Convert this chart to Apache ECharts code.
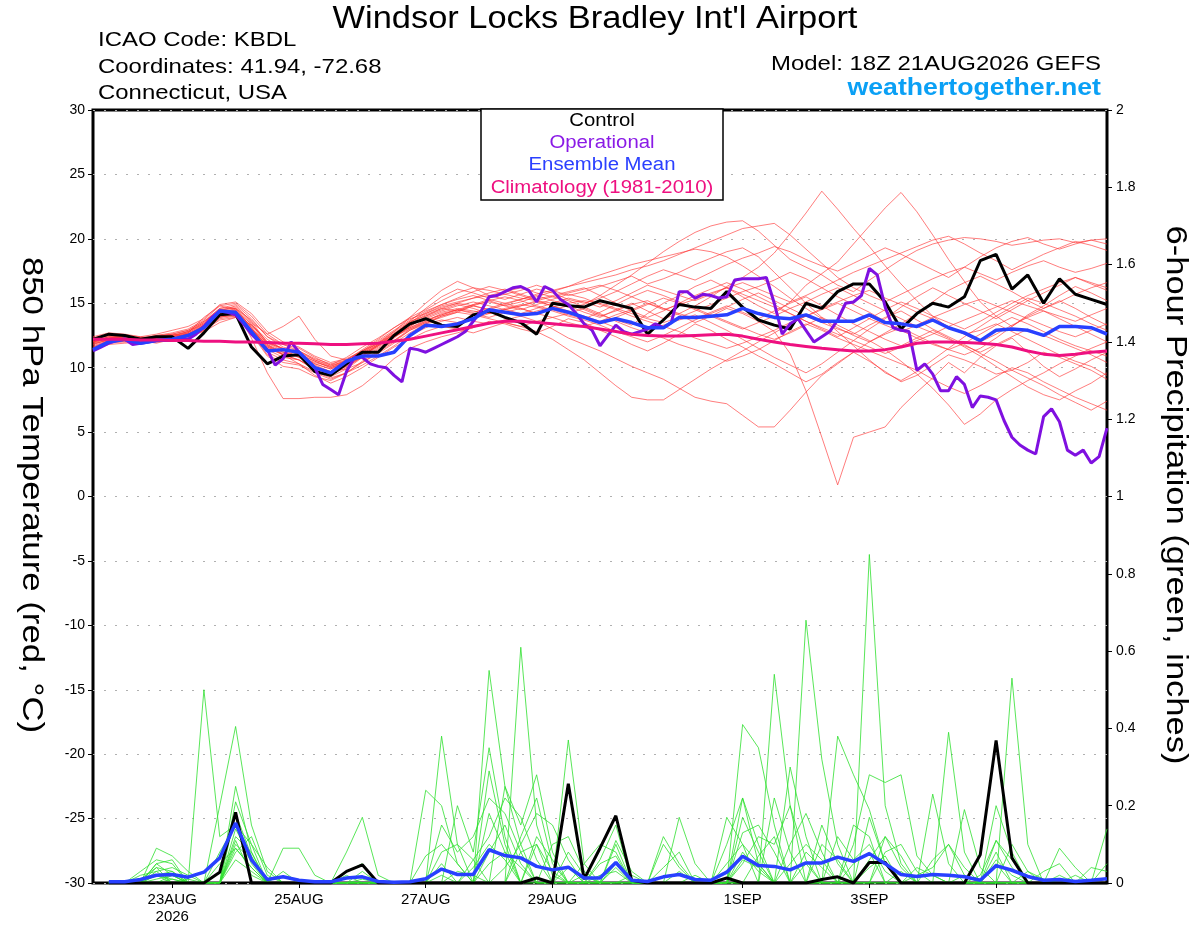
<!DOCTYPE html>
<html>
<head>
<meta charset="utf-8">
<title>KBDL GEFS 850 hPa Temperature / 6-hour Precipitation</title>
<script src="https://cdn.jsdelivr.net/npm/echarts@6/dist/echarts.min.js"></script>
<style>
html,body{margin:0;padding:0;background:#fff;}
#chart{width:1200px;height:927px;}
</style>
</head>
<body>
<div id="chart"></div>
<script>
// x axis: hours after 18Z 21AUG2026, 6-hourly (operational run 3-hourly)
var tickHours = [30, 78, 126, 174, 246, 294, 342];
var tickLabels = ['23AUG\n2026', '25AUG', '27AUG', '29AUG', '1SEP', '3SEP', '5SEP'];

// 850 hPa temperature, degC, 65 steps of 6h
var tempControl = [12.2,12.6,12.5,12.2,12.4,12.4,11.5,12.7,14.1,14.2,11.6,
  10.3,10.9,11.0,9.7,9.4,10.3,11.2,11.2,12.5,13.4,
  13.8,13.3,13.2,14.1,14.4,13.9,13.5,12.6,15.0,14.8,
  14.7,15.2,14.9,14.6,12.6,13.7,14.9,14.7,14.6,15.9,
  14.7,13.7,13.3,13.0,15.0,14.6,15.9,16.5,16.5,15.1,
  13.0,14.2,15.0,14.7,15.5,18.3,18.8,16.1,17.2,15.0,
  16.9,15.7,15.3,14.9];
var tempMean = [11.4,12.0,12.2,11.9,12.1,12.2,12.5,13.1,14.4,14.3,12.8,
  11.3,11.4,11.2,10.0,9.6,10.5,10.9,10.9,11.2,12.5,
  13.3,13.2,13.4,13.8,14.5,14.3,14.1,14.2,14.6,14.3,
  13.9,13.5,13.8,13.5,13.1,13.1,13.9,13.9,14.0,14.1,
  14.6,14.2,13.9,13.8,14.1,13.6,13.6,13.6,14.1,13.5,
  13.4,13.2,13.7,13.1,12.7,12.1,12.9,13.0,12.9,12.5,
  13.2,13.2,13.1,12.6];
var tempClim = [12.2,12.2,12.2,12.15,12.15,12.1,12.1,12.05,12.05,12.0,12.0,
  11.95,11.9,11.9,11.85,11.8,11.8,11.85,11.9,12.05,12.2,
  12.45,12.7,12.95,13.2,13.45,13.6,13.6,13.5,13.4,13.3,
  13.2,13.0,12.8,12.6,12.5,12.45,12.45,12.5,12.55,12.6,
  12.45,12.2,12.0,11.8,11.65,11.5,11.4,11.3,11.3,11.4,
  11.6,11.9,12.0,12.0,11.95,11.9,11.8,11.6,11.3,11.05,
  10.95,11.05,11.2,11.3];
// operational, 129 steps of 3h
var tempOper = [11.3,11.6,11.9,12.1,12.2,11.8,11.9,12.0,12.1,12.1,
  12.1,12.2,12.2,12.6,13.2,13.9,14.4,14.3,14.1,13.4,
  12.6,12.0,11.4,10.2,10.7,12.0,11.2,10.6,10.0,8.7,
  8.3,7.9,9.7,10.8,10.8,10.3,10.1,10.0,9.4,8.9,
  11.5,11.4,11.2,11.5,11.8,12.1,12.4,12.8,13.6,14.4,
  15.5,15.6,15.9,16.2,16.3,16.0,15.1,16.3,16.0,15.3,
  14.9,14.2,13.4,12.9,11.7,12.5,13.3,12.8,12.6,12.8,
  13.0,13.4,13.1,13.5,15.9,15.9,15.4,15.7,15.6,15.4,
  15.5,16.8,16.9,16.9,16.9,17.0,15.0,12.6,13.4,13.8,
  12.9,12.0,12.4,12.8,13.7,15.0,15.1,15.6,17.7,17.2,
  14.7,13.1,12.9,12.8,9.8,10.3,9.5,8.2,8.2,9.3,
  8.7,6.9,7.8,7.7,7.5,5.9,4.6,4.0,3.6,3.3,
  6.2,6.8,5.8,3.6,3.2,3.6,2.6,3.1,5.3];

// ensemble members, temperature
var tm01 = [11.5,12.0,12.3,12.2,12.4,12.6,12.9,13.6,14.6,14.9,13.8,12.4,11.6,11.3,10.6,10.2,10.8,11.6,12.3,13.1,13.9,14.5,15.2,15.8,16.2,16.0,15.7,15.4,15.2,15.0,14.7,14.9,15.6,16.4,17.2,18.1,19.0,19.8,20.5,21.0,21.3,21.4,20.6,19.5,18.4,17.8,17.2,16.4,15.9,16.8,17.6,18.4,19.1,19.6,19.9,20.1,20.0,19.8,19.5,19.7,19.9,20.0,19.7,19.9,19.6];
var tm02 = [12.0,12.4,12.2,12.0,12.3,12.5,12.8,13.4,14.4,14.8,13.6,11.9,11.3,11.1,10.0,9.6,10.2,10.9,11.8,12.6,13.4,14.1,14.6,14.4,14.9,15.3,15.0,14.6,14.2,14.5,14.8,14.3,13.9,14.5,15.0,14.4,13.8,14.2,14.8,15.5,16.3,17.0,17.8,18.9,20.4,22.0,23.7,22.3,20.8,19.4,17.9,16.5,15.2,14.0,13.1,12.6,12.9,13.4,12.8,12.2,11.6,11.0,10.5,10.1,9.4];
var tm03 = [11.3,11.9,12.0,12.1,11.9,12.2,12.6,13.2,14.1,14.5,13.1,11.4,10.8,10.6,9.8,9.3,9.9,10.8,11.4,12.1,12.9,13.5,13.9,14.3,14.8,14.5,14.3,14.0,13.6,13.9,14.2,14.6,14.1,13.7,13.3,14.2,15.0,15.6,16.3,16.8,16.2,15.5,14.8,14.2,15.1,16.4,17.3,18.2,19.6,21.0,22.4,23.6,22.1,20.3,18.4,16.7,15.1,14.0,13.2,14.1,14.8,15.6,16.3,15.8,15.2];
var tm04 = [12.2,12.5,12.4,12.3,12.5,12.6,12.4,12.8,13.5,13.9,13.0,11.9,11.5,11.0,10.3,9.9,10.5,11.2,11.9,12.6,13.1,13.6,14.2,14.5,14.3,14.6,15.0,15.3,15.6,15.2,14.9,14.5,14.0,14.4,14.9,15.2,14.6,14.1,13.5,14.0,14.6,14.2,13.6,12.8,11.1,8.2,4.6,0.9,4.6,5.0,5.4,6.9,8.1,9.2,10.4,9.6,10.8,11.7,12.3,11.2,10.1,9.3,9.9,10.6,11.2];
var tm05 = [11.6,12.0,12.1,11.9,12.0,12.2,12.7,13.9,14.8,14.5,12.3,9.6,7.6,7.6,7.7,7.7,7.9,8.6,9.6,10.7,11.5,12.0,12.4,12.7,13.1,13.6,13.4,13.0,12.7,13.2,13.8,13.5,12.9,12.4,11.8,11.3,11.9,12.6,13.4,12.9,12.2,11.6,10.9,10.3,9.6,8.9,9.5,10.4,11.2,10.5,9.7,8.9,9.4,10.2,11.0,10.6,10.1,9.5,9.8,10.4,11.2,10.8,10.3,9.8,9.1];
var tm06 = [12.0,12.2,12.0,12.1,12.3,12.1,12.3,12.9,13.8,14.0,13.3,12.2,11.4,10.8,10.2,9.7,9.9,10.4,11.1,11.9,12.7,13.4,14.0,14.3,14.1,13.8,13.5,13.2,13.6,13.0,12.3,11.8,11.3,10.7,10.1,9.6,9.1,8.4,7.7,7.4,7.2,6.3,5.4,5.4,6.7,8.1,9.4,10.3,11.2,12.0,12.6,13.1,12.5,11.9,11.4,11.0,11.5,12.3,13.2,14.0,14.6,15.2,14.6,13.9,13.3];
var tm07 = [12.4,12.7,12.6,12.4,12.6,12.9,13.2,13.8,14.9,15.1,14.2,12.8,12.0,11.6,10.9,10.4,10.7,11.3,12.0,12.8,13.9,15.0,16.0,16.7,16.2,15.6,15.3,15.7,16.1,15.8,15.3,15.0,15.4,15.9,16.5,17.1,17.6,17.2,16.8,17.4,18.0,18.5,18.9,19.4,19.0,18.4,17.9,17.5,18.1,18.7,19.3,18.8,18.2,17.6,17.0,17.8,18.6,19.3,19.8,20.1,19.6,19.2,19.6,19.9,20.0];
var tm08 = [11.9,12.3,12.3,12.2,12.1,12.4,12.6,13.1,14.2,14.6,13.4,11.8,11.0,10.3,9.4,8.8,9.3,10.0,10.8,11.6,12.2,12.8,13.2,13.0,12.7,13.1,13.5,13.2,12.8,12.2,11.4,10.6,9.6,8.6,7.7,7.5,7.5,8.3,9.1,9.9,10.6,11.3,12.0,12.7,13.4,14.0,14.6,15.1,15.6,16.0,15.4,14.9,14.3,13.8,13.2,12.6,12.0,12.6,13.3,13.9,14.4,13.8,13.2,12.6,12.0];
var tm09 = [11.7,12.1,12.2,12.3,12.2,12.3,12.5,13.3,14.3,14.3,12.9,11.5,11.0,10.9,10.4,10.1,10.6,11.4,12.2,13.1,13.8,14.2,14.7,15.0,15.4,15.6,15.9,16.2,15.8,15.5,15.2,14.7,14.2,13.6,13.1,12.7,12.3,11.8,11.4,11.0,10.5,10.9,11.4,12.1,12.8,13.4,12.9,12.3,11.8,11.3,10.8,10.3,9.8,9.1,8.5,8.0,8.6,9.3,10.0,9.6,8.9,8.3,7.7,7.2,6.7];
var tm10 = [12.1,12.3,12.5,12.4,12.3,12.5,12.8,13.5,14.6,14.7,13.5,12.6,13.2,14.0,12.2,10.9,10.6,11.3,11.9,12.7,13.5,14.3,14.9,15.3,15.6,15.2,14.8,15.1,15.5,15.9,16.3,16.8,17.2,17.6,18.0,18.3,18.6,18.9,19.2,19.0,18.6,17.9,17.1,16.3,15.4,14.6,13.8,13.1,12.5,12.0,12.7,13.4,14.2,15.1,16.0,16.6,17.1,16.5,15.9,15.2,14.6,15.1,15.7,16.2,16.6];
var tm11 = [11.4,11.8,11.9,12.0,12.0,12.1,12.4,12.9,13.7,13.9,12.8,11.2,10.6,10.3,9.7,9.2,9.6,10.2,10.9,11.7,12.5,13.1,13.6,13.9,13.6,13.4,13.7,14.0,14.4,14.7,15.0,15.2,15.0,14.6,14.2,13.8,13.5,13.9,14.4,14.9,15.4,15.9,16.3,16.8,17.4,16.9,16.2,15.5,14.9,14.3,13.6,12.9,12.3,11.8,11.4,11.9,12.6,13.3,13.9,13.4,12.8,12.2,11.7,11.3,10.9];
var tm12 = [12.3,12.6,12.4,12.2,12.4,12.6,12.9,13.6,14.4,14.2,12.9,11.6,11.1,11.0,10.5,10.0,10.5,11.1,11.8,12.4,13.0,13.5,14.0,14.4,14.8,15.2,15.5,15.2,14.8,14.5,14.1,13.8,14.3,14.9,15.5,16.0,15.6,15.1,14.6,14.1,13.6,13.1,12.6,12.2,12.7,13.3,13.9,13.3,12.7,12.1,11.4,10.5,9.5,8.4,7.1,5.6,6.4,7.5,8.3,9.0,9.6,10.3,10.9,11.5,12.0];
var tm13 = [11.8,12.2,12.3,12.2,12.3,12.4,12.6,13.2,14.1,14.3,13.0,11.7,11.2,10.8,10.1,9.7,10.1,10.8,11.5,12.3,13.2,14.0,14.6,15.0,14.8,14.5,14.9,15.3,15.7,16.0,16.3,16.6,16.9,17.2,17.6,17.9,18.3,18.8,19.3,19.8,20.3,20.8,21.0,21.2,20.3,19.2,18.1,17.0,16.2,15.6,15.1,15.7,16.3,16.9,17.4,17.8,17.3,16.8,17.4,17.9,18.3,17.8,17.4,17.7,18.1];
var tm14 = [12.0,12.4,12.3,12.1,12.2,12.4,12.7,13.4,14.3,14.4,13.2,11.8,11.2,10.9,10.3,9.9,10.3,11.0,11.7,12.5,13.3,13.8,14.3,14.6,14.4,14.2,14.6,14.9,14.7,14.4,14.0,13.7,13.3,12.8,12.4,12.0,12.5,13.1,13.7,14.2,14.7,15.3,15.8,15.2,14.6,14.0,13.5,13.0,12.6,13.3,13.9,14.4,13.7,13.0,12.4,11.8,11.1,10.5,9.8,9.2,8.6,7.9,7.3,6.7,7.4];
var tm15 = [11.5,12.0,12.1,12.0,12.2,12.3,12.4,12.9,13.9,14.1,12.7,11.0,10.4,10.2,9.6,9.1,9.6,10.4,11.2,12.0,12.9,13.4,13.7,13.5,13.8,14.2,14.5,14.8,15.1,14.8,14.4,14.0,13.6,13.1,12.6,12.9,13.3,13.7,14.1,13.5,12.9,12.2,11.5,10.8,10.2,9.6,10.3,11.2,12.1,13.0,13.8,14.7,15.5,16.2,15.6,15.0,14.4,13.8,14.5,15.2,15.8,16.4,17.0,16.5,16.0];
var tm16 = [12.2,12.5,12.4,12.3,12.4,12.5,12.7,13.3,14.2,14.4,13.4,12.0,11.4,11.1,10.5,10.0,10.4,11.0,11.7,12.4,13.2,13.9,14.4,14.8,15.1,14.8,14.5,14.2,14.6,15.0,15.4,15.1,14.7,15.2,15.8,16.4,16.0,15.6,15.2,15.7,16.2,16.6,16.1,15.6,15.1,15.6,16.2,16.8,17.4,17.9,18.4,18.9,19.4,19.9,20.2,19.6,18.9,18.3,17.6,18.2,18.8,19.3,19.8,19.5,19.1];
var tm17 = [11.9,12.1,12.2,12.2,12.3,12.2,12.5,13.0,14.0,14.0,12.6,10.9,10.1,9.9,9.3,9.0,9.6,10.5,11.3,12.1,13.0,13.6,14.1,14.5,14.2,13.9,14.3,14.6,14.2,13.9,13.5,13.2,13.6,14.1,14.5,15.0,14.6,14.2,13.8,14.3,14.8,14.3,13.8,14.4,15.0,15.5,14.8,14.1,13.4,12.8,12.2,11.7,12.3,12.9,12.3,11.6,10.9,10.1,9.3,8.5,7.9,7.5,8.2,8.8,9.6];
var tm18 = [12.1,12.4,12.3,12.2,12.5,12.7,13.0,13.7,14.8,15.0,14.0,12.6,11.8,11.5,10.8,10.2,10.5,11.1,11.8,12.6,13.6,14.6,15.5,16.1,15.8,15.4,15.7,16.0,16.4,16.0,15.6,15.9,16.3,16.7,17.1,16.5,16.9,17.4,18.0,18.5,19.0,19.3,18.6,17.4,16.2,15.0,13.9,12.8,11.7,10.6,9.6,9.0,9.7,10.6,11.5,12.4,13.2,14.0,14.7,15.4,15.0,14.5,14.0,13.4,12.9];
var tm19 = [11.8,12.2,12.1,12.0,12.2,12.3,12.6,13.3,14.5,14.6,13.1,11.6,11.0,10.6,9.9,9.5,10.0,10.9,11.7,12.6,13.5,14.2,14.8,15.1,15.4,15.8,16.1,15.7,15.3,15.6,15.9,16.2,15.6,15.0,14.4,13.9,14.4,15.0,15.6,16.1,16.6,16.1,15.5,14.9,14.2,13.6,13.0,12.4,13.1,13.8,14.5,15.1,14.6,14.0,13.5,13.0,13.6,14.3,15.0,15.6,16.1,16.6,17.0,16.6,16.2];
var tm20 = [12.3,12.5,12.3,12.1,12.2,12.4,12.8,13.5,14.5,14.6,13.7,12.4,11.8,11.3,10.7,10.3,10.6,11.3,12.1,12.9,13.7,14.4,14.9,15.4,15.9,16.3,16.0,15.6,15.2,14.8,14.3,13.9,13.4,13.9,14.4,14.9,15.4,15.0,14.5,14.0,13.5,13.0,13.5,14.0,14.6,15.1,15.7,16.2,15.6,15.0,14.4,13.8,13.2,12.7,12.2,11.7,11.2,11.8,12.4,13.0,12.5,12.0,11.5,11.0,10.4];
var tm21 = [11.6,12.1,12.2,12.2,12.1,12.3,12.6,13.0,13.9,14.2,13.0,11.7,11.0,10.6,10.0,9.6,10.1,10.9,11.6,12.4,13.1,13.7,14.1,14.5,14.9,15.1,14.8,14.5,14.9,15.3,15.7,15.4,14.9,14.5,14.0,13.6,13.2,12.8,12.3,11.9,11.5,11.9,12.4,12.9,13.5,14.0,14.5,15.0,14.4,13.8,13.3,12.8,13.3,13.9,14.4,14.9,15.3,14.8,14.3,13.8,13.3,12.8,12.4,12.9,13.4];
var tm22 = [12.0,12.3,12.4,12.3,12.3,12.2,12.5,13.2,14.0,14.2,13.3,12.0,11.5,11.2,10.6,10.1,10.5,11.2,11.9,12.8,13.6,14.0,14.5,14.9,14.6,14.2,14.5,14.8,15.2,15.5,15.8,16.1,16.4,16.0,15.5,15.0,14.5,14.9,15.3,15.8,16.2,15.7,15.2,14.7,14.2,13.6,13.1,12.6,12.1,11.6,11.1,11.6,12.1,12.6,13.2,13.7,14.2,14.7,15.2,14.8,14.4,14.0,13.6,14.1,14.6];
var tempMembers = [tm01, tm02, tm03, tm04, tm05, tm06, tm07, tm08, tm09, tm10, tm11,
  tm12, tm13, tm14, tm15, tm16, tm17, tm18, tm19, tm20, tm21, tm22];

// 6-hour precipitation, inches, 64 steps (first value ends 00Z 22AUG)
var precControl = [0,0,0,0,0,0,0,.028, .183,0,0,0,0,0,0,.03, .047,0,0,0,0,0,0,0, 0,0,0,.013,0,.257,.01,.09, .174,.007,0,0,0,0,0,.013, 0,0,0,0,0,.009,.016,0, .053,.053,0,0,0,0,0,.073, .369,.065,0,0,0,0,0,0];
var precMean = [.003,.003,.009,.02,.022,.015,.028,.065, .155,.06,.009,.016,.007,.003,.003,.013, .016,.004,.002,.003,.011,.036,.022,.022, .086,.071,.065,.043,.034,.041,.013,.013, .053,.007,.004,.016,.022,.009,.007,.028, .069,.045,.043,.034,.052,.052,.067,.056, .076,.05,.022,.017,.022,.02,.016,.007, .045,.033,.017,.007,.009,.004,.007,.011];

var pm01 = [0,0,0,.09,.07,.03,0,0, .25,.08,0,0,0,0,0,0, 0,0,0,0,0,.38,.1,0, 0,0,.61,.15,.02,0,0,0, 0,0,0,0,0,0,0,0, .22,.1,0,0,0,0,0,0, .17,.05,0,0,0,0,0,0, .11,.04,0,0,0,0,0,0];
var pm02 = [0,0,.03,.06,.05,0,.5,.12, .15,.05,0,0,0,0,0,0, 0,0,0,0,0,0,0,0, .55,.25,.1,0,0,.04,0,0, 0,0,0,0,0,0,0,0, 0,0,.54,.2,.06,0,0,0, 0,0,0,0,.23,.05,0,0, 0,0,0,0,0,0,0,0];
var pm03 = [0,0,0,.05,.06,0,0,.2, .405,.15,.03,0,0,0,0,0, 0,0,0,0,.24,.2,.05,0, 0,.25,.15,.28,.08,0,0,0, 0,0,0,0,0,0,0,0, 0,0,0,0,.68,.32,.1,0, 0,0,0,0,0,0,0,0, 0,.53,.1,0,0,0,0,0];
var pm04 = [0,0,.01,.04,.03,0,0,0, .21,.1,0,.09,.09,.02,0,0, 0,0,0,0,0,0,.2,.08, .35,.12,0,0,0,.37,.05,0, 0,0,0,0,0,0,0,0, .41,.35,.15,0,0,0,0,0, .85,.2,.05,0,0,.39,.08,0, 0,0,0,0,0,0,0,0];
var pm05 = [0,0,0,.03,.04,.02,0,0, .12,.08,0,0,0,0,0,.08, .17,.02,0,0,0,0,0,0, .29,.1,0,.12,.06,0,0,0, .1,0,0,.12,.05,0,0,0, 0,0,0,.3,.12,0,.38,.28, .19,.05,0,0,0,0,0,0, .05,0,0,0,0,0,0,.14];
var pm06 = [0,0,0,.02,.03,0,0,0, .1,.06,0,0,0,0,0,.03, .05,0,0,0,0,.15,.08,.12, .22,.18,.08,0,0,0,0,.06, .15,0,0,0,.17,.05,0,.17, .1,.05,0,0,0,0,0,.1, .28,.26,.28,.07,.02,0,.19,.04, 0,0,0,0,0,0,0,0];
var pm07 = [0,0,0,.01,.02,0,0,.08, .15,.1,.04,0,0,0,0,0, 0,0,0,0,.07,.1,.05,0, .18,.08,0,.1,.03,0,0,.05, .07,0,0,.04,.08,0,0,0, .05,.12,.1,.2,0,.1,.06,0, 0,.12,.04,0,0,0,0,0, .06,.02,0,0,.09,.04,0,0];
var pm08 = [0,0,0,0,.01,0,0,0, .08,.12,.02,0,0,0,0,0, .03,0,0,0,0,.05,0,.06, .12,.22,.17,.06,0,0,.05,.1, .08,0,0,0,0,0,0,.1, .22,.05,0,0,.08,.04,0,.15, .12,0,0,.02,.04,.1,.04,0, 0,0,0,.03,.05,0,0,0];
var pm09 = [0,0,.02,.03,0,0,0,0, .06,.03,0,.03,0,0,0,.02, 0,0,0,0,0,0,0,0, .08,.15,.05,0,.1,.12,.03,0, 0,.02,0,.1,.04,0,0,0, .08,.03,0,.1,.18,.08,0,0, 0,.08,.1,.03,0,0,0,.02, .11,.06,0,0,0,0,.04,.03];
var pm10 = [0,0,0,.02,0,0,0,0, .09,.04,0,0,0,0,0,0, 0,0,0,0,0,.08,.1,.06, 0,0,.12,.22,.05,0,0,0, .11,.03,0,0,0,.02,0,0, .13,.15,.08,0,0,0,.12,.06, .1,.03,0,0,.06,.1,.02,0, 0,0,0,0,0,.02,0,0];
var pm11 = [0,0,0,0,.02,0,0,0, .14,.06,0,0,0,0,0,0, 0,0,0,0,0,0,0,0, 0,.04,.1,.18,.15,.06,0,0, 0,0,0,0,0,0,0,0, .17,.08,0,.05,.1,.06,0,0, .06,.12,.07,0,0,0,0,0, .2,.08,0,0,0,0,0,0];
var pm12 = [0,0,0,.04,0,.01,0,0, .18,.07,0,0,0,0,0,0, .01,0,0,0,0,0,0,.04, .1,.06,0,0,0,.08,.02,0, .05,0,0,0,.03,0,0,.05, .1,0,.22,.08,0,0,0,.05, .08,0,0,.04,.02,0,0,0, 0,0,.03,.01,0,0,0,0];
var pm13 = [0,0,.01,.02,.01,0,0,0, .11,.02,0,0,0,0,0,0, 0,0,0,0,0,0,.03,.02, 0,0,.08,.1,0,0,0,.02, .03,0,0,0,0,0,0,0, 0,.07,.12,0,0,.15,.05,0, 0,0,.03,0,0,0,.02,0, 0,.1,.03,0,0,0,0,.05];
var pm14 = [0,0,0,.05,.02,0,0,.05, .09,.04,0,0,0,0,0,0, 0,0,0,0,0,.02,0,0, .05,.08,.04,0,0,0,.02,0, .04,0,0,0,0,0,0,0, .06,.04,0,0,.05,0,0,0, .04,.07,0,0,0,0,0,0, .08,0,0,0,.02,0,0,0];
var precMembers = [pm01, pm02, pm03, pm04, pm05, pm06, pm07, pm08, pm09, pm10, pm11, pm12, pm13, pm14];

var FONT = 'Liberation Sans, Arial, Helvetica, sans-serif';

function temp6h(arr){ return arr.map(function(v, i){ return [i * 6, v]; }); }
function temp3h(arr){ return arr.map(function(v, i){ return [i * 3, v]; }); }
function prec6h(arr){ return arr.map(function(v, i){ return [(i + 1) * 6, v]; }); }

function lineSeries(name, data, axis, color, width, z){
  return {
    name: name, type: 'line', yAxisIndex: axis, data: data,
    symbol: 'none', showSymbol: false, silent: true, z: z,
    lineStyle: {color: color, width: width}
  };
}

var series = [];
tempMembers.forEach(function(m){
  series.push(lineSeries('member', temp6h(m), 0, 'rgba(255,50,50,0.8)', 0.8, 2));
});
precMembers.forEach(function(m){
  series.push(lineSeries('member', prec6h(m), 1, '#2fe02f', 0.8, 2));
});
series.push(lineSeries('Control', temp6h(tempControl), 0, '#000', 3, 3));
series.push(lineSeries('Control', prec6h(precControl), 1, '#000', 3, 3));
series.push(lineSeries('Operational', temp3h(tempOper), 0, '#7f10e0', 3, 4));
series.push(lineSeries('Ensemble Mean', temp6h(tempMean), 0, '#2840ff', 3.5, 5));
series.push(lineSeries('Ensemble Mean', prec6h(precMean), 1, '#2840ff', 3.5, 5));
series.push(lineSeries('Climatology (1981-2010)', temp6h(tempClim), 0, '#ee1080', 3, 6));

// header and legend texts are drawn slightly stretched like the original font
function txt(text, x, y, size, align, color, weight, sx){
  return {
    type: 'text', x: x, y: y, scaleX: sx || 1.14, z: 100,
    style: {text: text, fontSize: size, fontFamily: FONT, fontWeight: weight || 'normal',
      fill: color || '#000', align: align, verticalAlign: 'middle'}
  };
}

var graphics = [
  txt("Windsor Locks Bradley Int'l Airport", 595, 19, 31, 'center', '#000', 'normal', 1.11),
  txt('ICAO Code: KBDL', 98, 40, 21, 'left'),
  txt('Coordinates: 41.94, -72.68', 98, 67, 21, 'left'),
  txt('Connecticut, USA', 98, 93, 21, 'left'),
  txt('Model: 18Z 21AUG2026 GEFS', 1101, 64, 21, 'right'),
  txt('weathertogether.net', 1101, 89, 23, 'right', '#0aa0f5', 'bold', 1.16),
  {
    type: 'rect', z: 99,
    shape: {x: 481, y: 109, width: 242, height: 91},
    style: {fill: '#fff', stroke: '#000', lineWidth: 1.5}
  },
  txt('Control', 602, 121, 18, 'center', '#000', 'normal', 1.13),
  txt('Operational', 602, 143, 18, 'center', '#8a1ae6', 'normal', 1.13),
  txt('Ensemble Mean', 602, 165, 18, 'center', '#2b40ff', 'normal', 1.13),
  txt('Climatology (1981-2010)', 602, 188, 18, 'center', '#ee1080', 'normal', 1.13),
  {
    type: 'text', x: 31, y: 495, rotation: -Math.PI / 2, scaleX: 1.16, z: 100,
    style: {text: '850 hPa Temperature (red, \u00b0C)', fontSize: 30, fontFamily: FONT,
      fill: '#000', align: 'center', verticalAlign: 'middle'}
  },
  {
    type: 'text', x: 1175, y: 495, rotation: -Math.PI / 2, scaleX: 1.15, z: 100,
    style: {text: '6-hour Precipitation (green, inches)', fontSize: 30, fontFamily: FONT,
      fill: '#000', align: 'center', verticalAlign: 'middle'}
  }
];

var myChart = echarts.init(document.getElementById('chart'), null, {renderer: 'canvas'});
var option = {
  animation: false,
  backgroundColor: '#fff',
  textStyle: {fontFamily: FONT},
  grid: {left: 93, right: 93, top: 110, bottom: 44, show: true,
    borderColor: '#000', borderWidth: 3, backgroundColor: 'transparent'},
  xAxis: {
    type: 'value', min: 0, max: 384,
    axisLine: {show: false, onZero: false},
    splitLine: {show: false},
    axisTick: {show: true, length: 5, customValues: tickHours, lineStyle: {color: '#000', width: 1}},
    axisLabel: {
      customValues: tickHours, margin: 8, color: '#000', fontSize: 15, lineHeight: 17,
      formatter: function(v){ var k = tickHours.indexOf(v); return k >= 0 ? tickLabels[k] : ''; }
    }
  },
  yAxis: [{
    type: 'value', min: -30, max: 30, interval: 5, position: 'left',
    axisLine: {show: false},
    axisTick: {show: true, length: 5, lineStyle: {color: '#000', width: 1}},
    axisLabel: {color: '#000', fontSize: 14, margin: 8},
    splitLine: {show: true, lineStyle: {color: '#b0b0b0', width: 1, type: [2, 9]}}
  }, {
    type: 'value', min: 0, max: 2, interval: 0.2, position: 'right',
    axisLine: {show: false},
    axisTick: {show: true, length: 5, lineStyle: {color: '#000', width: 1}},
    axisLabel: {color: '#000', fontSize: 14, margin: 9},
    splitLine: {show: false}
  }],
  graphic: graphics,
  series: series
};
myChart.setOption(option);
</script>
</body>
</html>
